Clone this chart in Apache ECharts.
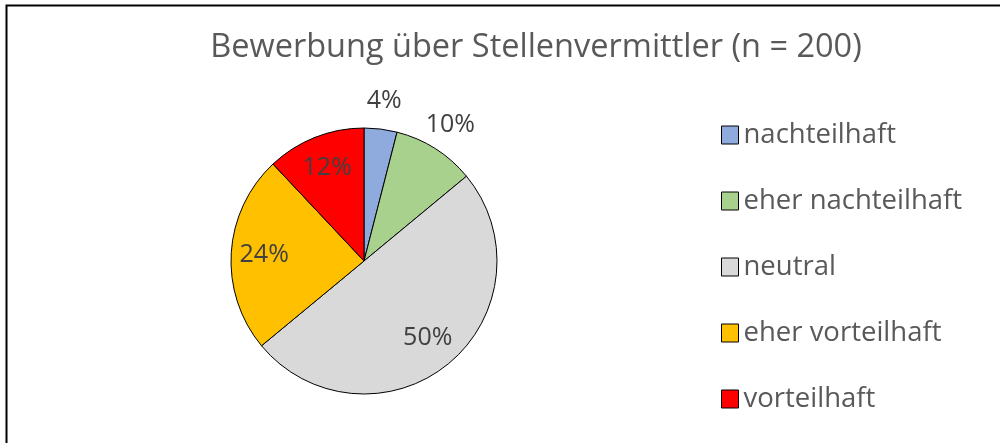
<!DOCTYPE html>
<html>
<head>
<meta charset="utf-8">
<title>Bewerbung über Stellenvermittler</title>
<script src="https://cdn.jsdelivr.net/npm/echarts@6/dist/echarts.min.js"></script>
<style>
  html, body { margin: 0; padding: 0; background: #fff; }
  #chart { width: 1000px; height: 443px; }
</style>
</head>
<body>
<div id="chart"></div>
<script>
// Daten (Anteile in %)
const categories = ['nachteilhaft', 'eher nachteilhaft', 'neutral', 'eher vorteilhaft', 'vorteilhaft'];
const values = [4, 10, 50, 24, 12];
const colors = ['#8faadc', '#a9d18e', '#d9d9d9', '#ffc000', '#ff0000'];
// welche Beschriftungen ausserhalb stehen
const outsideLabels = ['nachteilhaft', 'eher nachteilhaft'];

const fontFamily = '"Open Sans", Lato, sans-serif';
const center = [364, 261];
const radius = 133;

let chart = echarts.init(document.getElementById('chart'));

const pieData = categories.map((name, i) => ({
  name: name,
  value: values[i],
  itemStyle: { color: colors[i] }
}));

// unsichtbare Serien nur fuer die Beschriftung
function labelSeries(r0, r1, outside) {
  return {
    type: 'pie',
    silent: true,
    center: center,
    radius: [r0, r1],
    startAngle: 90,
    clockwise: true,
    animation: false,
    itemStyle: { color: 'transparent', borderWidth: 0 },
    labelLine: { show: false },
    data: categories.map((name, i) => ({
      name: name,
      value: values[i],
      label: { show: outsideLabels.includes(name) === outside }
    })),
    label: {
      position: 'inside',
      formatter: p => p.value + '%',
      color: '#404040',
      fontSize: 25,
      fontFamily: fontFamily
    }
  };
}

chart.setOption({
  backgroundColor: '#fff',
  title: {
    text: 'Bewerbung über Stellenvermittler (n = 200)',
    left: 531,
    top: 26,
    textAlign: 'center',
    textStyle: {
      color: '#595959',
      fontSize: 32.5,
      fontWeight: 'normal',
      fontFamily: fontFamily
    }
  },
  legend: {
    orient: 'vertical',
    left: 716,
    top: 116,
    icon: 'rect',
    itemWidth: 17,
    itemHeight: 18,
    itemGap: 38,
    data: categories.map((name, i) => ({
      name: name,
      itemStyle: { color: colors[i], borderColor: '#000', borderWidth: 1 }
    })),
    textStyle: {
      color: '#595959',
      fontSize: 27.5,
      lineHeight: 27,
      fontFamily: fontFamily
    }
  },
  graphic: [
    {
      type: 'polyline',
      shape: { points: [[6.5, 443], [6.5, 5.5], [1000, 5.5]] },
      style: { stroke: '#000', lineWidth: 2, fill: null },
      silent: true
    }
  ],
  series: [
    {
      name: 'Bewerbung',
      type: 'pie',
      center: center,
      radius: radius,
      startAngle: 90,
      clockwise: true,
      data: pieData,
      label: { show: false },
      labelLine: { show: false },
      itemStyle: { borderColor: '#000', borderWidth: 1 },
      emphasis: { scale: false }
    },
    labelSeries(60, 134, false),
    labelSeries(140, 176, true)
  ]
});
</script>
</body>
</html>
